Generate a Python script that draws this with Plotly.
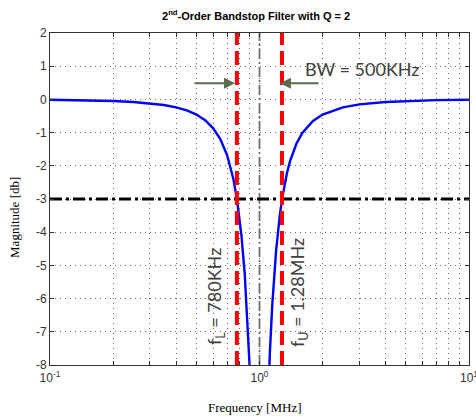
import plotly.graph_objects as go

# Frequency response (MHz, dB)
freq_mhz = [0.10, 0.15, 0.20, 0.25, 0.30, 0.35, 0.40, 0.45, 0.50, 0.55, 0.60, 0.65,
            0.70, 0.75, 0.78, 0.82, 0.85, 0.88, 0.90, 0.92]
mag_db = [-0.011, -0.026, -0.047, -0.077, -0.116, -0.169, -0.239, -0.333, -0.458,
          -0.628, -0.863, -1.195, -1.676, -2.392, -2.993, -4.093, -5.245, -6.816,
          -8.20, -9.99]
freq_mhz_hi = [1.08, 1.10, 1.12, 1.15, 1.20, 1.25, 1.28, 1.35, 1.40, 1.50, 1.60,
               1.80, 2.0, 2.5, 3.0, 4.0, 5.0, 7.0, 10.0]
mag_db_hi = [-10.62, -8.95, -7.67, -6.21, -4.563, -3.492, -3.02, -2.237, -1.852,
             -1.335, -1.014, -0.650, -0.458, -0.240, -0.150, -0.077, -0.047, -0.023,
             -0.011]

f_lower = 0.78
f_upper = 1.28
f_center = 1.0
cutoff_db = -3
bw_label = "BW = 500KHz"
fl_label = "f<sub>L</sub> = 780KHz"
fu_label = "f<sub>U</sub> = 1.28MHz"
title_text = "<b>2<sup>nd</sup>-Order Bandstop Filter with Q = 2</b>"
x_title = "Frequency [MHz]"
y_title = "Magnitude [db]"

x_tickvals = [m * 10 ** e for e in (-1, 0) for m in range(1, 10)] + [10]
x_ticktext = ["10<sup>-1</sup>" if v == 0.1 else "10<sup>0</sup>" if v == 1 else
              "10<sup>1</sup>" if v == 10 else "" for v in x_tickvals]
y_tickvals = list(range(-8, 3))
y_ticktext = [str(v) for v in y_tickvals]

fig = go.Figure()

# vertical gray center line
fig.add_trace(go.Scatter(x=[f_center, f_center], y=[-8, 2], mode="lines",
                         line=dict(color="#707070", width=1.8, dash="10px,3px,2px,3px"),
                         showlegend=False, hoverinfo="skip"))
# curve
fig.add_trace(go.Scatter(x=freq_mhz + [None] + freq_mhz_hi, y=mag_db + [None] + mag_db_hi,
                         mode="lines", line=dict(color="#0000ff", width=2.4),
                         showlegend=False))
# -3 dB line
fig.add_trace(go.Scatter(x=[0.1, 10], y=[cutoff_db, cutoff_db], mode="lines",
                         line=dict(color="black", width=3, dash="12px,4px,3px,4px"),
                         showlegend=False, hoverinfo="skip"))
# cutoff lines
for f in (f_lower, f_upper):
    fig.add_trace(go.Scatter(x=[f, f], y=[-8, 2], mode="lines",
                             line=dict(color="#ff0000", width=4, dash="14px,6px"),
                             showlegend=False, hoverinfo="skip"))

axis_font = dict(family="Liberation Sans, Arial, sans-serif", size=12, color="#333333")
common = dict(showgrid=True, gridcolor="#6a6a6a", griddash="1px,4px", gridwidth=1,
              ticks="inside", ticklen=4, tickcolor="#333333", mirror="ticks",
              showline=True, linecolor="#333333", linewidth=1, zeroline=False,
              tickfont=axis_font, automargin=False, ticklabeloverflow="allow")

fig.update_layout(
    width=476, height=419,
    margin=dict(l=50, r=7, t=33, b=54, autoexpand=False),
    plot_bgcolor="white", paper_bgcolor="white",
    xaxis=dict(type="log", range=[-1, 1], tickvals=x_tickvals, ticktext=x_ticktext,
               ticklabelstandoff=2, **common),
    yaxis=dict(range=[-8, 2], tickvals=y_tickvals, ticktext=y_ticktext, **common),
)

# titles as paper annotations
fig.add_annotation(x=0.4916, y=1.054, xref="paper", yref="paper", text=title_text,
                   showarrow=False, xanchor="center", yanchor="middle",
                   font=dict(family="Liberation Sans, Arial, sans-serif", size=11,
                             color="black"))
fig.add_annotation(x=0.489, y=-0.1295, xref="paper", yref="paper", text=x_title,
                   showarrow=False, xanchor="center", yanchor="middle",
                   font=dict(family="Liberation Serif, Times New Roman, serif",
                             size=13, color="black"))
fig.add_annotation(x=-0.0835, y=0.443, xref="paper", yref="paper", text=y_title,
                   showarrow=False, xanchor="center", yanchor="middle", textangle=-90,
                   font=dict(family="Liberation Serif, Times New Roman, serif",
                             size=13, color="black"))

text_font = dict(family="Lato, Open Sans, sans-serif", size=18, color="#404040")
arrow_color = "#5b6b4f"

fig.add_annotation(x=0.490, y=0.916, xref="x", yref="y", text=bw_label, showarrow=False,
                   font=text_font, xanchor="center", yanchor="middle")
fig.add_annotation(x=-0.117, y=0.49, xref="x", yref="y", text="", showarrow=True,
                   ax=-42, ay=0, arrowhead=2, arrowsize=1.1, arrowwidth=2,
                   arrowcolor=arrow_color)
fig.add_annotation(x=0.098, y=0.49, xref="x", yref="y", text="", showarrow=True,
                   ax=40, ay=0, arrowhead=2, arrowsize=1.1, arrowwidth=2,
                   arrowcolor=arrow_color)
fig.add_annotation(x=-0.207, y=-5.95, xref="x", yref="y", text=fl_label, showarrow=False,
                   textangle=-90, font=text_font, xanchor="center", yanchor="middle")
fig.add_annotation(x=0.189, y=-5.83, xref="x", yref="y", text=fu_label, showarrow=False,
                   textangle=-90, font=text_font, xanchor="center", yanchor="middle")

fig.write_html("out.html", config={"displayModeBar": False},
               post_script="document.body.style.margin='0';")
